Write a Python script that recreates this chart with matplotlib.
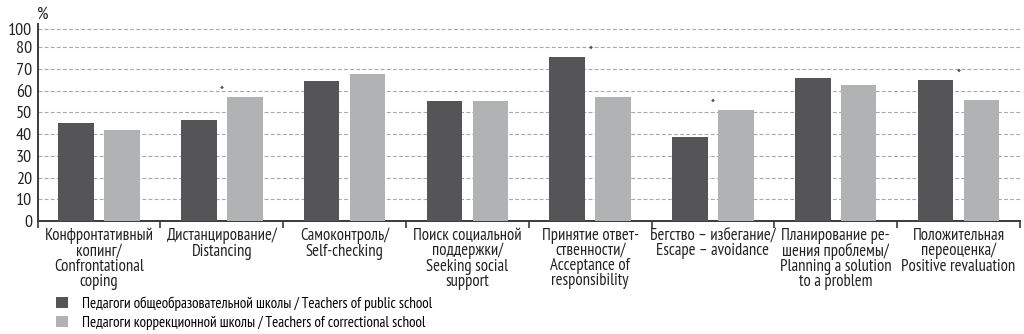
import matplotlib
matplotlib.use("Agg")
import matplotlib.pyplot as plt
from matplotlib.patches import Patch
from matplotlib import font_manager as fm
import numpy as np

names = {f.name for f in fm.fontManager.ttflist}
for cand in ['PT Sans Narrow', 'Roboto Condensed', 'Fira Sans Condensed', 'Roboto']:
    if cand in names:
        FONT = [cand, 'DejaVu Sans']
        break
else:
    FONT = ['DejaVu Sans']
plt.rcParams['font.family'] = FONT

categories = [
    "Конфронтативный\nкопинг/\nConfrontational\ncoping",
    "Дистанцирование/\nDistancing",
    "Самоконтроль/\nSelf-checking",
    "Поиск социальной\nподдержки/\nSeeking social\nsupport",
    "Принятие ответ-\nственности/\nAcceptance of\nresponsibility",
    "Бегство\u2009–\u2009избегание/\nEscape\u2009–\u2009avoidance",
    "Планирование ре-\nшения проблемы/\nPlanning a solution\nto a problem",
    "Положительная\nпереоценка/\nPositive revaluation",
]
public_school = [45.0, 46.5, 64.4, 55.4, 75.4, 38.8, 65.9, 64.8]
correctional_school = [42.0, 57.1, 67.7, 55.4, 57.1, 51.2, 62.7, 55.8]
significant = [False, True, False, False, True, True, False, True]
series_labels = [
    "Педагоги общеобразовательной школы / Teachers of public school",
    "Педагоги коррекционной школы / Teachers of correctional school",
]
ytick_values = [0, 10, 20, 30, 40, 50, 60, 70, 80, 88.3]
ytick_labels = ["0", "10", "20", "30", "40", "50", "60", "70", "80", "100"]

DARK = "#555557"
LIGHT = "#b1b2b4"
AX = "#3a3a3a"
TXT = "#222222"

fig = plt.figure(figsize=(10.24, 3.34), dpi=100)
ax = fig.add_axes([0.0368, 0.3383, 0.9592, 0.5913])

x = np.arange(len(categories))
w = 0.29
off = 0.187
ax.bar(x - off, public_school, w, color=DARK, zorder=3)
ax.bar(x + off, correctional_school, w, color=LIGHT, zorder=3)

for i, s in enumerate(significant):
    if s:
        top = max(public_school[i], correctional_school[i])
        ax.text(x[i], top + 2.6, "*", ha="center", va="center", fontsize=10, color=AX, zorder=4)

ax.set_xlim(-0.5, len(categories) - 0.5)
ax.set_ylim(0, 91)
ax.set_yticks(ytick_values)
ax.set_yticklabels(ytick_labels, fontsize=13, color=TXT)
ax.tick_params(axis="y", length=0, pad=4)
for v in ytick_values[1:]:
    ax.axhline(v, color="#a8a8a8", lw=0.8, ls=(0, (3.5, 2)), zorder=1)

ax.set_xticks(x)
ax.set_xticklabels(categories, fontsize=12, color=TXT, linespacing=0.92, va="top")
ax.tick_params(axis="x", which="major", length=0, pad=5)
ax.set_xticks(np.arange(len(categories) + 1) - 0.5, minor=True)
ax.tick_params(axis="x", which="minor", length=5, width=1.2, color=AX, direction="out")

for sp in ["top", "right"]:
    ax.spines[sp].set_visible(False)
for sp in ["left", "bottom"]:
    ax.spines[sp].set_color(AX)
    ax.spines[sp].set_linewidth(1.4)

fig.text(0.036, 0.955, "%", fontsize=13, color=TXT, ha="left", va="center")

handles = [Patch(facecolor=DARK, edgecolor="none"), Patch(facecolor=LIGHT, edgecolor="none")]
fig.legend(handles, series_labels, loc="upper left", bbox_to_anchor=(0.055, 0.113),
           frameon=False, fontsize=10.8, handlelength=0.8, handleheight=0.8,
           handletextpad=0.9, labelspacing=0.3, borderpad=0, borderaxespad=0)

fig.savefig("out.png", dpi=100)
